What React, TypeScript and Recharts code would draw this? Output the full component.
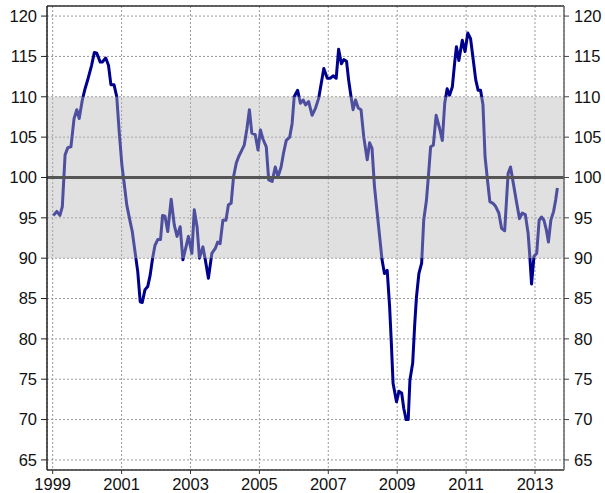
import React from "react";
import { LineChart, Line, XAxis, YAxis, CartesianGrid, ReferenceArea, ReferenceLine } from "recharts";

// decimal-year positions and index values
const years: number[] = [
  1999.02, 1999.12, 1999.21, 1999.28, 1999.36, 1999.44, 1999.53, 1999.62, 1999.70, 1999.77, 1999.86, 1999.94,
  2000.03, 2000.13, 2000.21, 2000.28, 2000.38, 2000.44, 2000.54, 2000.62, 2000.69, 2000.78, 2000.86, 2000.93,
  2001.01, 2001.08, 2001.15, 2001.25, 2001.31, 2001.39, 2001.47, 2001.54, 2001.60, 2001.68, 2001.76, 2001.83,
  2001.90, 2001.97, 2002.05, 2002.13, 2002.19, 2002.26, 2002.34, 2002.44, 2002.53, 2002.61, 2002.70, 2002.78,
  2002.87, 2002.94, 2003.04, 2003.11, 2003.19, 2003.26, 2003.36, 2003.43, 2003.52, 2003.62, 2003.72, 2003.79,
  2003.86, 2003.94, 2004.03, 2004.10, 2004.18, 2004.25, 2004.33, 2004.40, 2004.47, 2004.56, 2004.64, 2004.71,
  2004.78, 2004.88, 2004.96, 2005.03, 2005.10, 2005.20, 2005.27, 2005.37, 2005.46, 2005.54, 2005.63, 2005.70,
  2005.78, 2005.88, 2005.95, 2006.01, 2006.11, 2006.19, 2006.27, 2006.34, 2006.43, 2006.53, 2006.63, 2006.72,
  2006.87, 2006.97, 2007.06, 2007.14, 2007.23, 2007.30, 2007.38, 2007.45, 2007.53, 2007.59, 2007.66, 2007.72,
  2007.79, 2007.87, 2007.95, 2008.03, 2008.13, 2008.20, 2008.27, 2008.34, 2008.42, 2008.49, 2008.56, 2008.63,
  2008.71, 2008.78, 2008.83, 2008.88, 2008.98, 2009.05, 2009.13, 2009.19, 2009.26, 2009.32, 2009.37, 2009.45,
  2009.51, 2009.56, 2009.63, 2009.71, 2009.77, 2009.85, 2009.92, 2009.97, 2010.05, 2010.13, 2010.23, 2010.31,
  2010.38, 2010.45, 2010.52, 2010.60, 2010.67, 2010.72, 2010.79, 2010.89, 2010.97, 2011.05, 2011.13, 2011.21,
  2011.28, 2011.35, 2011.42, 2011.49, 2011.55, 2011.62, 2011.69, 2011.78, 2011.86, 2011.95, 2012.03, 2012.12,
  2012.22, 2012.29, 2012.37, 2012.47, 2012.55, 2012.63, 2012.72, 2012.80, 2012.85, 2012.90, 2012.97, 2013.05,
  2013.12, 2013.19, 2013.26, 2013.33, 2013.39, 2013.46, 2013.54, 2013.60, 2013.65,
];

const values: number[] = [
  95.3, 95.8, 95.3, 96.4, 102.8, 103.7, 103.8, 107.3, 108.4, 107.3, 109.6, 111.0,
  112.3, 113.9, 115.5, 115.4, 114.3, 114.3, 114.8, 113.9, 111.5, 111.5, 110.0, 105.7,
  101.5, 99.1, 96.6, 94.5, 93.3, 90.8, 88.3, 84.6, 84.5, 86.1, 86.5, 87.9,
  90.0, 91.6, 92.3, 92.3, 95.3, 95.2, 93.3, 97.3, 94.1, 92.7, 93.9, 89.8,
  91.4, 92.7, 90.6, 96.0, 93.9, 90.0, 91.4, 89.8, 87.5, 90.6, 91.2, 92.0,
  91.8, 94.7, 94.7, 96.6, 96.8, 100.1, 101.8, 102.6, 103.2, 104.0, 106.1, 108.4,
  105.5, 105.3, 103.4, 105.9, 104.8, 103.8, 99.7, 99.5, 101.3, 100.1, 101.3, 103.0,
  104.6, 105.0, 106.7, 110.0, 110.8, 109.2, 109.6, 109.0, 109.4, 107.7, 108.6, 109.8,
  113.5, 112.3, 112.3, 112.6, 112.3, 115.9, 114.1, 114.6, 114.4, 112.1, 110.0, 108.4,
  109.6, 108.6, 108.4, 105.0, 102.2, 104.3, 103.6, 98.9, 95.6, 92.7, 89.8, 88.1,
  88.5, 84.0, 79.5, 74.5, 72.2, 73.5, 73.3, 71.4, 70.0, 70.0, 74.9, 77.0,
  81.9, 85.2, 88.1, 89.4, 94.7, 97.2, 100.9, 103.8, 104.0, 107.7, 106.1, 104.6,
  109.2, 111.0, 110.2, 111.2, 114.3, 116.2, 114.5, 117.0, 115.6, 117.9, 117.2, 114.5,
  112.1, 110.8, 110.8, 109.0, 102.6, 99.7, 97.0, 96.8, 96.4, 95.6, 93.7, 93.4,
  100.5, 101.3, 99.3, 96.8, 94.9, 95.6, 95.4, 93.1, 90.2, 86.8, 90.2, 90.6,
  94.7, 95.1, 94.7, 93.5, 92.0, 94.7, 95.8, 97.2, 98.7,
];

const xTicks: number[] = [1999, 2001, 2003, 2005, 2007, 2009, 2011, 2013];
const yTicks: number[] = [65, 70, 75, 80, 85, 90, 95, 100, 105, 110, 115, 120];
const bandLow = 90;
const bandHigh = 110;
const baseline = 100;

const X_DOMAIN: [number, number] = [1998.835, 2013.842];
const Y_DOMAIN: [number, number] = [63.75, 121.25];

const data = years.map((t, i) => ({ t, v: values[i] }));

const FONT = "'Liberation Sans', Arial, sans-serif";
const tickStyle = { fontSize: 16.5, fill: "#111", fontFamily: FONT };
const GRID = "#999999";

export default function App() {
  return (
    <div style={{ position: "absolute", left: 0, top: 0, width: 605, height: 493, background: "#fff" }}>
      <LineChart width={605} height={493} data={data} margin={{ top: 6, right: 0, bottom: 0, left: 0 }}>
        <CartesianGrid yAxisId="left" stroke={GRID} strokeDasharray="2 2" strokeWidth={1} />
        <XAxis
          dataKey="t"
          type="number"
          domain={X_DOMAIN}
          ticks={xTicks}
          height={23}
          tickSize={4}
          tickMargin={4}
          tick={tickStyle}
          stroke="#333"
          axisLine={{ stroke: "#333", strokeWidth: 1.5 }}
          tickLine={{ stroke: "#333" }}
        />
        <YAxis
          yAxisId="left"
          type="number"
          domain={Y_DOMAIN}
          ticks={yTicks}
          width={47}
          tickSize={6}
          tickMargin={4}
          tick={tickStyle}
          axisLine={{ stroke: "#222", strokeWidth: 1.5 }}
          tickLine={{ stroke: "#222" }}
        />
        <YAxis
          yAxisId="right"
          orientation="right"
          type="number"
          domain={Y_DOMAIN}
          ticks={yTicks}
          allowDataOverflow
          width={41}
          tickSize={5}
          tickMargin={5}
          tick={tickStyle}
          axisLine={{ stroke: "#666", strokeWidth: 1.5 }}
          tickLine={{ stroke: "#444" }}
        />
        <Line
          yAxisId="left"
          type="linear"
          dataKey="v"
          stroke="#00008f"
          strokeWidth={3}
          dot={false}
          strokeLinejoin="round"
          isAnimationActive={false}
        />
        <ReferenceArea
          yAxisId="left"
          y1={bandLow}
          y2={bandHigh}
          fill="#b6b6b6"
          fillOpacity={0.43}
          stroke="none"
          zIndex={450}
        />
        <ReferenceLine yAxisId="left" y={baseline} stroke="#555" strokeWidth={3} zIndex={460} />
        <ReferenceLine yAxisId="left" y={Y_DOMAIN[1]} stroke="#333" strokeWidth={1.5} zIndex={460} />
      </LineChart>
    </div>
  );
}
